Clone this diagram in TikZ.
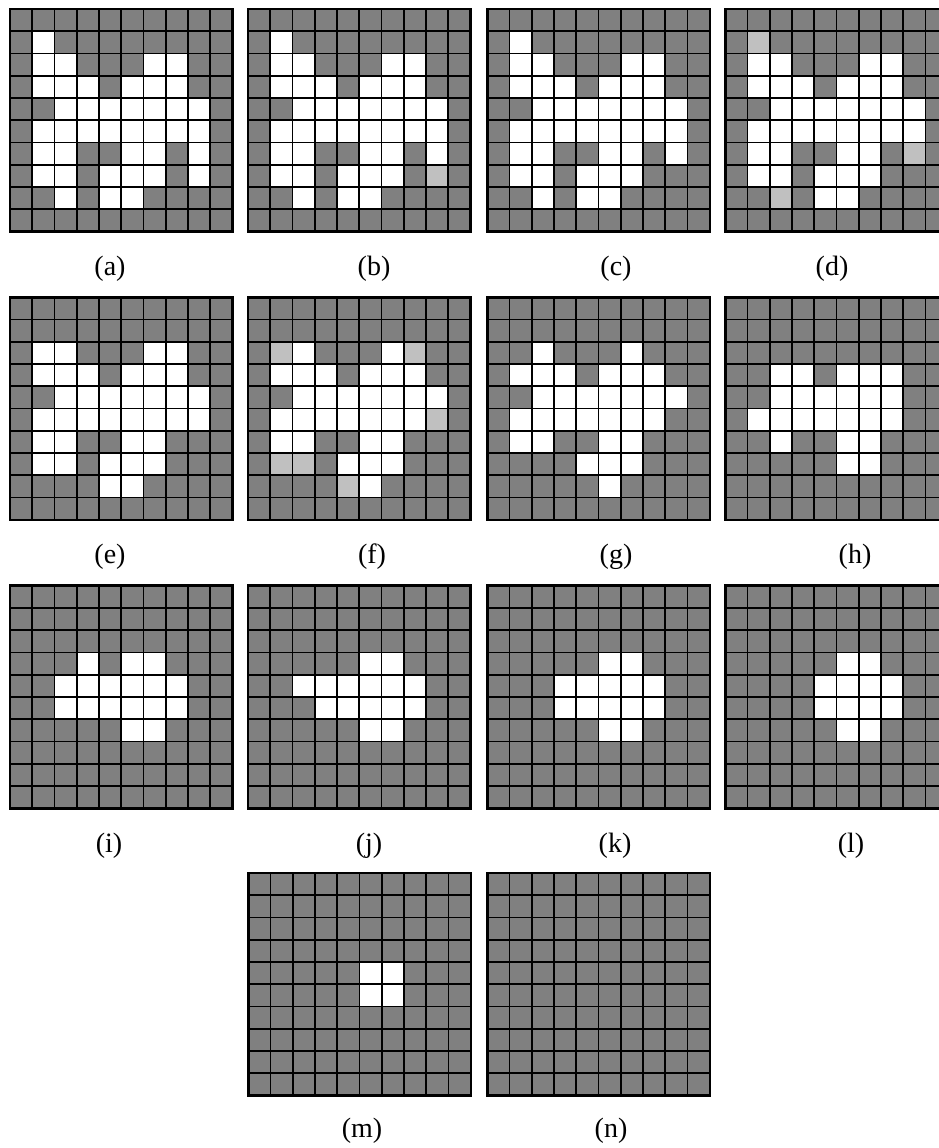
\documentclass[tikz,border=0pt]{standalone}
\usepackage{fontspec}
\setmainfont{Liberation Serif}
\definecolor{cellGray}{HTML}{808080}
\definecolor{cellLight}{HTML}{C0C0C0}

% one 10x10 panel: #1 top-left corner, #2 row/{white columns}, #3 col/row of light cells
\newcommand{\cellgrid}[3]{%
  \begin{scope}[shift={#1},scale=22.25]
    \fill[cellGray] (0,0) rectangle (10,-10);
    \foreach \r/\cs in {#2} {\foreach \c in \cs {\fill[white] (\c,-\r) rectangle ++(1,-1);}}
    \foreach \c/\r in {#3} {\fill[cellLight] (\c,-\r) rectangle ++(1,-1);}
    \draw[gridline,step=1] (0,0) grid (10,-10);
    \draw[gridline,line width=2.6pt] (0,0) rectangle (10,-10);
  \end{scope}}

\begin{document}
\begin{tikzpicture}[x=1pt,y=1pt,
  gridline/.style={black,line width=1.8pt},
  panellabel/.style={font=\fontsize{28}{32}\selectfont,inner sep=0pt}
]
\useasboundingbox (0,0) rectangle (939,-1148);
\clip (0,0) rectangle (939,-1148);

% row 1
\cellgrid{(10,-9)}{1/{1},2/{1,2,6,7},3/{1,2,3,5,6,7},4/{2,...,8},5/{1,...,8},6/{1,2,5,6,8},7/{1,2,4,5,6,8},8/{2,4,5}}{}
\cellgrid{(248,-9)}{1/{1},2/{1,2,6,7},3/{1,2,3,5,6,7},4/{2,...,8},5/{1,...,8},6/{1,2,5,6,8},7/{1,2,4,5,6},8/{2,4,5}}{8/7}
\cellgrid{(487.3,-9)}{1/{1},2/{1,2,6,7},3/{1,2,3,5,6,7},4/{2,...,8},5/{1,...,8},6/{1,2,5,6,8},7/{1,2,4,5,6},8/{2,4,5}}{}
\cellgrid{(725.3,-9)}{2/{1,2,6,7},3/{1,2,3,5,6,7},4/{2,...,8},5/{1,...,8},6/{1,2,5,6},7/{1,2,4,5,6},8/{4,5}}{1/1,8/6,2/8}
\node[panellabel] (lbla) at (110,-269) {(a)};
\node[panellabel] (lblb) at (374,-269) {(b)};
\node[panellabel] (lblc) at (616,-269) {(c)};
\node[panellabel] (lbld) at (832,-269) {(d)};

% row 2
\cellgrid{(10,-297.3)}{2/{1,2,6,7},3/{1,2,3,5,6,7},4/{2,...,8},5/{1,...,8},6/{1,2,5,6},7/{1,2,4,5,6},8/{4,5}}{}
\cellgrid{(248,-297.3)}{2/{2,6},3/{1,2,3,5,6,7},4/{2,...,8},5/{1,...,7},6/{1,2,5,6},7/{4,5,6},8/{5}}{1/2,7/2,8/5,1/7,2/7,4/8}
\cellgrid{(487.3,-297.3)}{2/{2,6},3/{1,2,3,5,6,7},4/{2,...,8},5/{1,...,7},6/{1,2,5,6},7/{4,5,6},8/{5}}{}
\cellgrid{(725.3,-297.3)}{3/{2,3,5,6,7},4/{2,...,7},5/{1,...,7},6/{2,5,6},7/{5,6}}{}
\node[panellabel] (lble) at (110,-557) {(e)};
\node[panellabel] (lblf) at (372,-557) {(f)};
\node[panellabel] (lblg) at (616,-557) {(g)};
\node[panellabel] (lblh) at (855,-557) {(h)};

% row 3
\cellgrid{(10,-585.7)}{3/{3,5,6},4/{2,...,7},5/{2,...,7},6/{5,6}}{}
\cellgrid{(248,-585.7)}{3/{5,6},4/{2,...,7},5/{3,...,7},6/{5,6}}{}
\cellgrid{(487.3,-585.7)}{3/{5,6},4/{3,...,7},5/{3,...,7},6/{5,6}}{}
\cellgrid{(725.3,-585.7)}{3/{5,6},4/{4,...,7},5/{4,...,7},6/{5,6}}{}
\node[panellabel] (lbli) at (109,-846) {(i)};
\node[panellabel] (lblj) at (369,-846) {(j)};
\node[panellabel] (lblk) at (615,-846) {(k)};
\node[panellabel] (lbll) at (851,-846) {(l)};

% row 4
\cellgrid{(248.3,-873)}{4/{5,6},5/{5,6}}{}
\cellgrid{(487.3,-873)}{}{}
\node[panellabel] (lblm) at (362,-1131) {(m)};
\node[panellabel] (lbln) at (611,-1131) {(n)};
\end{tikzpicture}
\end{document}
